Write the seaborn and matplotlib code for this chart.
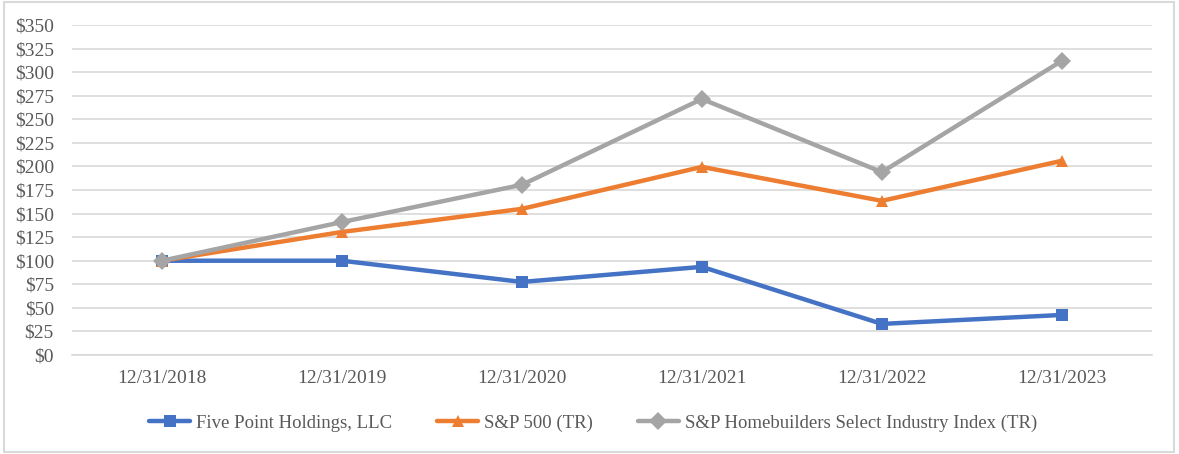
import matplotlib
matplotlib.use("Agg")
import matplotlib.pyplot as plt
import seaborn as sns
import pandas as pd
from matplotlib.patches import Rectangle

dates = ["12/31/2018", "12/31/2019", "12/31/2020", "12/31/2021", "12/31/2022", "12/31/2023"]
five_point = [100, 100, 77.5, 93.5, 33, 42.5]
sp500 = [100, 130.5, 155, 199.5, 163.5, 206]
homebuilders = [100, 141, 180.5, 271.5, 194, 312]
series_names = ["Five Point Holdings, LLC", "S&P 500 (TR)", "S&P Homebuilders Select Industry Index (TR)"]
yticks = list(range(0, 351, 25))

rows = []
for name, vals in zip(series_names, [five_point, sp500, homebuilders]):
    for d, v in zip(dates, vals):
        rows.append({"date": d, "value": v, "series": name})
df = pd.DataFrame(rows)

sns.set_theme(style="white")
plt.rcParams['font.family'] = ['Liberation Serif', 'DejaVu Serif']

fig = plt.figure(figsize=(11.79, 4.54), dpi=100)
ax = fig.add_axes([0.061, 0.218, 0.916, 0.727])

palette = {series_names[0]: "#4472C4", series_names[1]: "#ED7D31", series_names[2]: "#A5A5A5"}
markers = {series_names[0]: "s", series_names[1]: "^", series_names[2]: "D"}

sns.lineplot(data=df, x="date", y="value", hue="series", style="series",
             palette=palette, markers=markers, dashes=False, linewidth=3.2,
             markersize=9, markeredgewidth=0, ax=ax, sort=False)

ax.set_xlim(-0.5, 5.5)
ax.set_ylim(0, 350)
ax.set_yticks(yticks)
ax.set_yticklabels([f"${v}" for v in yticks])
ax.yaxis.grid(True, color="#D9D9D9", linewidth=1.2)
ax.set_axisbelow(True)
ax.set_xlabel("")
ax.set_ylabel("")
for s in ["top", "right", "left"]:
    ax.spines[s].set_visible(False)
ax.spines["bottom"].set_color("#D9D9D9")
ax.spines["bottom"].set_linewidth(1.2)
ax.tick_params(axis="both", labelsize=14, colors="#595959", length=0)
ax.tick_params(axis="x", pad=11)
ax.tick_params(axis="y", pad=13)

handles, labels = ax.get_legend_handles_labels()
fig.legend(handles, labels, loc="center", bbox_to_anchor=(0.503, 0.068),
           bbox_transform=fig.transFigure, ncol=3,
           frameon=False, fontsize=13.5, handlelength=2.2, handletextpad=0.3,
           columnspacing=2.4, labelcolor="#595959")
ax.get_legend().remove() if ax.get_legend() else None

fig.patches.append(Rectangle((0.003, 0.005), 0.993, 0.99, transform=fig.transFigure,
                             fill=False, edgecolor="#D9D9D9", linewidth=1.5))

fig.savefig("out.png", dpi=100, facecolor="white")
